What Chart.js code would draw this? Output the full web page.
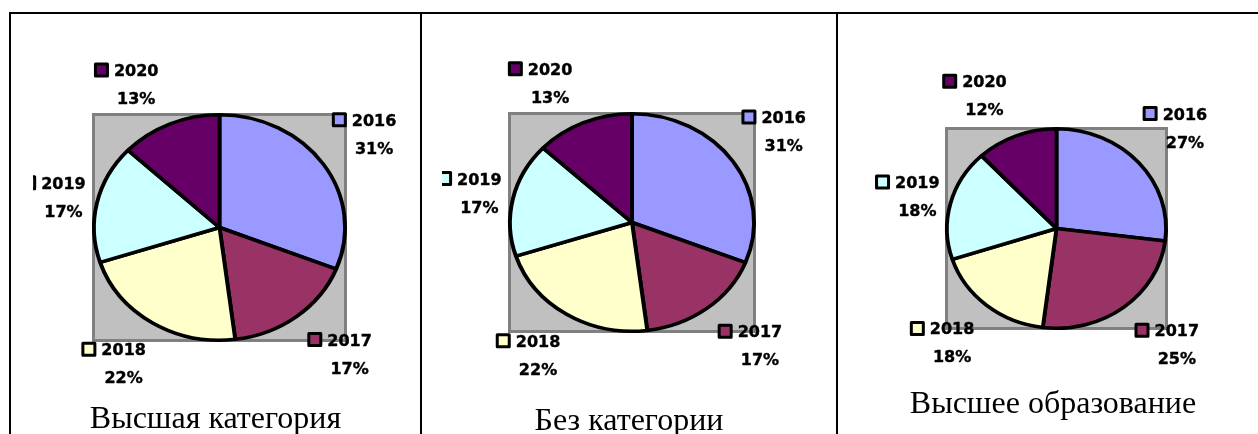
<!DOCTYPE html>
<html lang="ru">
<head>
  <meta charset="UTF-8">
  <title>Распределение по годам</title>
  <script src="https://cdn.jsdelivr.net/npm/chart.js"></script>
  <style>
    body { margin: 0; width: 1258px; height: 434px; overflow: hidden; background: #fff; position: relative; }
    .rule { position: absolute; background: #000; }
    .chart { position: absolute; }
    .caption { position: absolute; font-family: 'Liberation Serif', 'Times New Roman', serif; font-size: 32px; line-height: 32px; text-align: center; white-space: nowrap; color: #000; }
  </style>
</head>
<body>

<div class="rule" style="left:9px;top:12px;width:1249px;height:2px"></div>
<div class="rule" style="left:9px;top:12px;width:2px;height:422px"></div>
<div class="rule" style="left:420px;top:12px;width:2px;height:422px"></div>
<div class="rule" style="left:836px;top:12px;width:2px;height:422px"></div>

<canvas id="c1" class="chart"></canvas>
<canvas id="c2" class="chart"></canvas>
<canvas id="c3" class="chart"></canvas>

<div class="caption" id="cap1" style="left:11px;width:409px;top:401px"></div>
<div class="caption" id="cap2" style="left:422px;width:414px;top:403px"></div>
<div class="caption" id="cap3" style="left:838px;width:430px;top:386px"></div>

<script>
  const years = ['2016', '2017', '2018', '2019', '2020'];
  const topCategory = [31, 17, 22, 17, 13];
  const noCategory = [31, 17, 22, 17, 13];
  const higherEducation = [27, 25, 18, 18, 12];
  const titles = ['Высшая категория', 'Без категории', 'Высшее образование'];

  const colors = ['#9999ff', '#993366', '#ffffcc', '#ccffff', '#660066'];
  const edge = 3.5;
  // excel-style label placement tweaks (px)
  const nudgeX = [-8, 7, -7, 14, -20];
  const nudgeY = [-4, 0, 1, 4, 3];

  // canvas box + visible pie box [x0, x1, y0, y1], page coords
  const frames = [
    { id: 'c1', cap: 'cap1', left: 33, top: 40, width: 380, height: 360, pie: [92, 347, 113, 342], data: topCategory, title: titles[0] },
    { id: 'c2', cap: 'cap2', left: 442, top: 40, width: 385, height: 360, pie: [508, 756, 112, 333], data: noCategory, title: titles[1] },
    { id: 'c3', cap: 'cap3', left: 860, top: 40, width: 398, height: 360, pie: [945, 1168, 127, 330], data: higherEducation, title: titles[2] }
  ];

  // squashes the round pie into the oval shape, draws grey plot area and labels
  const ovalPie = {
    id: 'ovalPie',
    beforeDatasetsDraw(chart, args, opts) {
      const arc = chart.getDatasetMeta(0).data[0];
      const ctx = chart.ctx;
      const ry = arc.outerRadius + edge / 2;
      const rx = ry * opts.sx;
      ctx.save();
      ctx.fillStyle = '#c0c0c0';
      ctx.fillRect(arc.x - rx, arc.y - ry, 2 * rx, 2 * ry);
      ctx.strokeStyle = '#808080';
      ctx.lineWidth = 3;
      ctx.strokeRect(arc.x - rx + 1.5, arc.y - ry + 1.5, 2 * rx - 3, 2 * ry - 3);
      ctx.restore();
      ctx.save();
      ctx.translate(arc.x, arc.y);
      ctx.scale(opts.sx, 1);
      ctx.translate(-arc.x, -arc.y);
    },
    afterDatasetsDraw(chart) {
      chart.ctx.restore();
    },
    afterDraw(chart, args, opts) {
      const ctx = chart.ctx;
      const meta = chart.getDatasetMeta(0);
      const values = chart.data.datasets[0].data;
      ctx.save();
      ctx.font = 'bold 16px "DejaVu Sans"';
      meta.data.forEach((arc, i) => {
        const ry = arc.outerRadius + edge / 2;
        const rx = ry * opts.sx;
        const mid = (arc.startAngle + arc.endAngle) / 2;
        const bx = arc.x + (rx + 57) * Math.cos(mid) + nudgeX[i];
        const by = arc.y + (ry + 45) * Math.sin(mid) + nudgeY[i];
        const year = chart.data.labels[i];
        const tw = ctx.measureText(year).width;
        const left = bx - (20 + tw) / 2;
        const yearMid = by - 14;
        const pctMid = by + 14;

        ctx.fillStyle = colors[i];
        ctx.fillRect(left + 1.5, yearMid - 6, 12, 12);
        ctx.strokeStyle = '#000';
        ctx.lineWidth = 3;
        ctx.lineJoin = 'round';
        ctx.strokeRect(left + 1.5, yearMid - 6, 12, 12);

        ctx.fillStyle = '#000';
        ctx.strokeStyle = '#000';
        ctx.lineWidth = 0.4;
        ctx.textBaseline = 'alphabetic';
        ctx.textAlign = 'left';
        ctx.fillText(year, left + 20, yearMid + 6);
        ctx.strokeText(year, left + 20, yearMid + 6);
        ctx.textAlign = 'center';
        ctx.fillText(values[i] + '%', left + 20 + tw / 2, pctMid + 6);
        ctx.strokeText(values[i] + '%', left + 20 + tw / 2, pctMid + 6);
      });
      ctx.restore();
    }
  };

  frames.forEach(f => {
    const canvas = document.getElementById(f.id);
    canvas.width = f.width;
    canvas.height = f.height;
    canvas.style.left = f.left + 'px';
    canvas.style.top = f.top + 'px';
    document.getElementById(f.cap).textContent = f.title;

    const [x0, x1, y0, y1] = f.pie;
    const size = y1 - y0;
    const cx = (x0 + x1) / 2;

    new Chart(canvas, {
      type: 'pie',
      data: {
        labels: years,
        datasets: [{
          data: f.data,
          backgroundColor: colors,
          borderColor: '#000',
          borderWidth: edge,
          clip: false
        }]
      },
      options: {
        responsive: false,
        animation: false,
        events: [],
        layout: {
          padding: {
            left: cx - size / 2 - f.left,
            right: f.left + f.width - (cx + size / 2),
            top: y0 - f.top,
            bottom: f.top + f.height - y1
          }
        },
        plugins: {
          legend: { display: false },
          tooltip: { enabled: false },
          ovalPie: { sx: (x1 - x0) / size }
        }
      },
      plugins: [ovalPie]
    });
  });
</script>

</body>
</html>
